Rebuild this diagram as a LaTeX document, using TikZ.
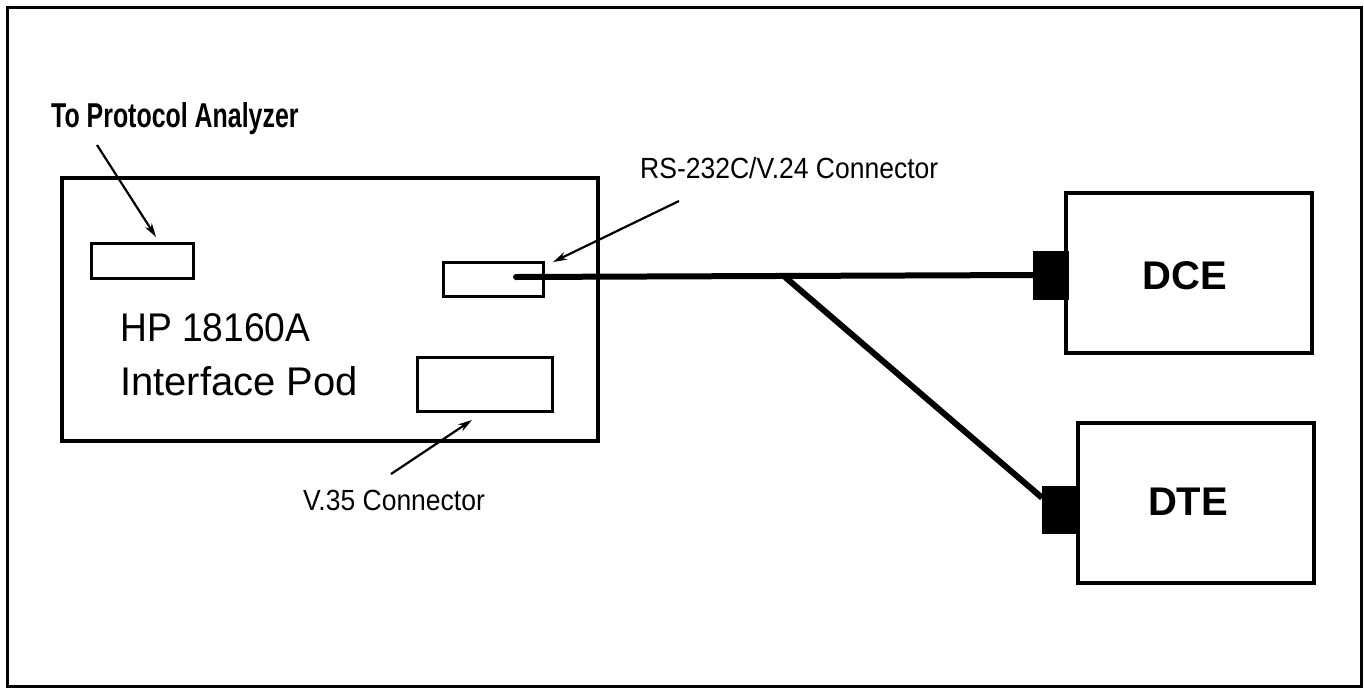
\documentclass[tikz,border=0pt]{standalone}
\usepackage{fontspec}
\setmainfont{Liberation Sans}
\usetikzlibrary{arrows.meta,calc}
\tikzset{
  box/.style={draw, line width=#1, inner sep=0pt, outer sep=0pt},
  box/.default=3pt,
  lbl/.style={inner sep=0pt, anchor=base west, yscale=1.1, font=\fontsize{26.5}{30}\selectfont},
  big/.style={inner sep=0pt, anchor=base west, font=\fontsize{40}{46}\selectfont},
  equip/.style={inner sep=0pt, font=\fontsize{40}{46}\selectfont\bfseries},
  plug/.style={fill=black, draw=black, line width=0.5pt, inner sep=0pt, outer sep=0pt},
  cable/.style={line width=6pt},
  pointer/.style={line width=2.2pt, -{Stealth[length=14pt,width=8pt]}}
}
\begin{document}
\begin{tikzpicture}[x=1pt,y=-1pt]
\useasboundingbox (0,0) rectangle (1364,691);
\draw[line width=3pt] (7,7) rectangle (1361,686);
% pod and its connectors
\node[box=4pt, minimum width=536pt, minimum height=263pt] (pod) at (330,309.5) {};
\node[box, minimum width=101.5pt, minimum height=35pt] (pabox) at (142.25,260.5) {};
\node[box, minimum width=100pt, minimum height=34pt] (rsbox) at (493,279) {};
\node[box, minimum width=135pt, minimum height=54pt] (vbox) at (484.5,384) {};
\node[big, xscale=0.93] (hp) at (120,341) {HP 18160A};
\node[big] (ip) at (120,395) {Interface Pod};
% equipment
\node[box=3.5pt, minimum width=246pt, minimum height=160pt] (dce) at (1189,273) {};
\node[box=3.5pt, minimum width=236pt, minimum height=160pt] (dte) at (1196,503) {};
\node[equip] (dcet) at (1185,276) {DCE};
\node[equip] (dtet) at (1188,502) {DTE};
\node[plug, minimum width=35pt, minimum height=48pt] (dcecon) at (1050.5,275) {};
\node[plug, minimum width=36pt, minimum height=47pt] (dtecon) at (1060,509.5) {};
% labels
\node[lbl, font=\fontsize{28}{32}\selectfont\bfseries, xscale=0.89, yscale=1.12] (patext) at (51,127) {To Protocol Analyzer};
\node[lbl] (rstext) at (640,178) {RS-232C/V.24 Connector};
\node[lbl] (vtext) at (303,510) {V.35 Connector};
% cable
\coordinate (cs) at (516,277);
\coordinate (br) at (785,277);
\coordinate (dtein) at ($(dtecon.north west)!0.25!(dtecon.south west)$);
\draw[cable, line cap=round] (cs) -- (dcecon.west);
\draw[cable] (br) -- (dtein);
% pointers
\coordinate (pa0) at (97,145);
\coordinate (pa1) at (156,237);
\coordinate (rs0) at (679,201);
\coordinate (rs1) at (553,262);
\coordinate (v0) at (391,474);
\coordinate (v1) at (472,420);
\draw[pointer] (pa0) -- (pa1);
\draw[pointer] (rs0) -- (rs1);
\draw[pointer] (v0) -- (v1);
\end{tikzpicture}
\end{document}
